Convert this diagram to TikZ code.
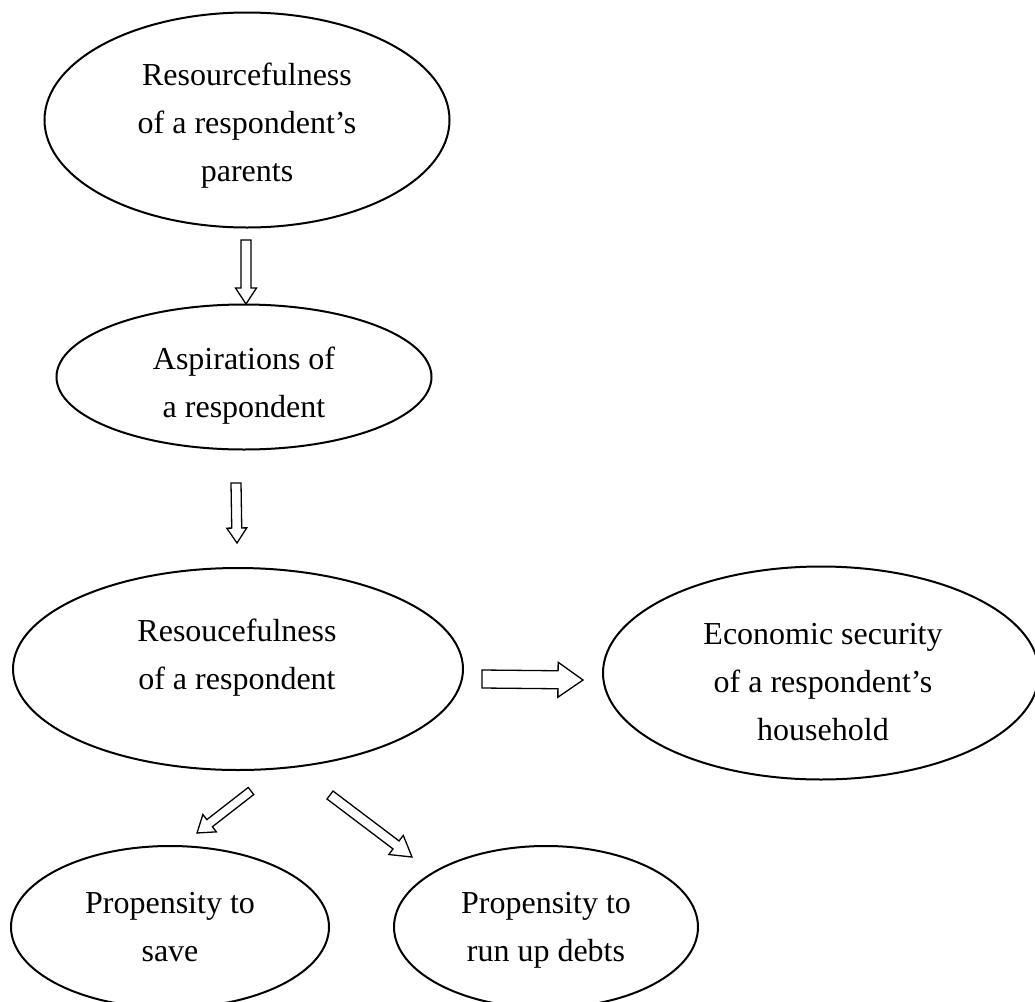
\documentclass[tikz,border=0pt]{standalone}
\usepackage{fontspec}
\setmainfont{Liberation Serif}
\usetikzlibrary{shapes.geometric,calc}
\tikzset{
  oval/.style={draw, ellipse, line width=1pt, inner sep=0pt},
  txt/.style={align=center, font=\fontsize{16}{24}\selectfont, inner sep=0pt},
  barrow/.style={draw, line width=0.65pt, line join=miter},
}
\newcommand\blockarrow[5]{%
  \coordinate (ba-h) at ($(#2)!#5!(#1)$);
  \draw[barrow] ($(#1)!#3!90:(#2)$) -- ($(ba-h)!#3!90:(#2)$) -- ($(ba-h)!#4!90:(#2)$) -- (#2)
    -- ($(ba-h)!#4!-90:(#2)$) -- ($(ba-h)!#3!-90:(#2)$) -- ($(#1)!#3!-90:(#2)$) -- cycle;}
\begin{document}
\begin{tikzpicture}[x=0.5pt, y=-0.5pt]
\useasboundingbox (0,0) rectangle (1035,1002);
\clip (0,0) rectangle (1035,1002);
% ellipses
\node[oval, minimum width=202.5pt, minimum height=107.5pt] (n1) at (247,120) {};
\node[oval, minimum width=187.5pt, minimum height=72.5pt] (n2) at (244,377) {};
\node[oval, minimum width=225pt, minimum height=101pt] (n3) at (238,669) {};
\node[oval, minimum width=218pt, minimum height=106.5pt] (n4) at (821,673) {};
\node[oval, minimum width=159pt, minimum height=81pt] (n5) at (170,927) {};
\node[oval, minimum width=152pt, minimum height=81pt] (n6) at (546,927) {};
% texts
\node[txt] (t1) at (247,126) {Resourcefulness\\of a respondent’s\\parents};
\node[txt] (t2) at (244,386) {Aspirations of\\a respondent};
\node[txt] (t3) at (237,658) {Resoucefulness\\of a respondent};
\node[txt] (t4) at (823,682) {Economic security\\of a respondent’s\\household};
\node[txt] (t5) at (170,927) {Propensity to\\save};
\node[txt] (t6) at (546,930) {Propensity to\\run up debts};
% arrow end points
\coordinate (a1s) at (246,240); \coordinate (a1e) at (246,304);
\coordinate (a2s) at (236,483); \coordinate (a2e) at (237,543);
\coordinate (a3s) at (482,679); \coordinate (a3e) at (583,680);
\coordinate (a4s) at (251,791); \coordinate (a4e) at (197,833);
\coordinate (a5s) at (330,795); \coordinate (a5e) at (412,857);
\blockarrow{a1s}{a1e}{2.5pt}{5.25pt}{8pt}
\blockarrow{a2s}{a2e}{2.5pt}{5pt}{7.5pt}
\blockarrow{a3s}{a3e}{4.5pt}{8.75pt}{12.5pt}
\blockarrow{a4s}{a4e}{2.25pt}{5.5pt}{8pt}
\blockarrow{a5s}{a5e}{2.5pt}{6pt}{10pt}
\end{tikzpicture}
\end{document}
